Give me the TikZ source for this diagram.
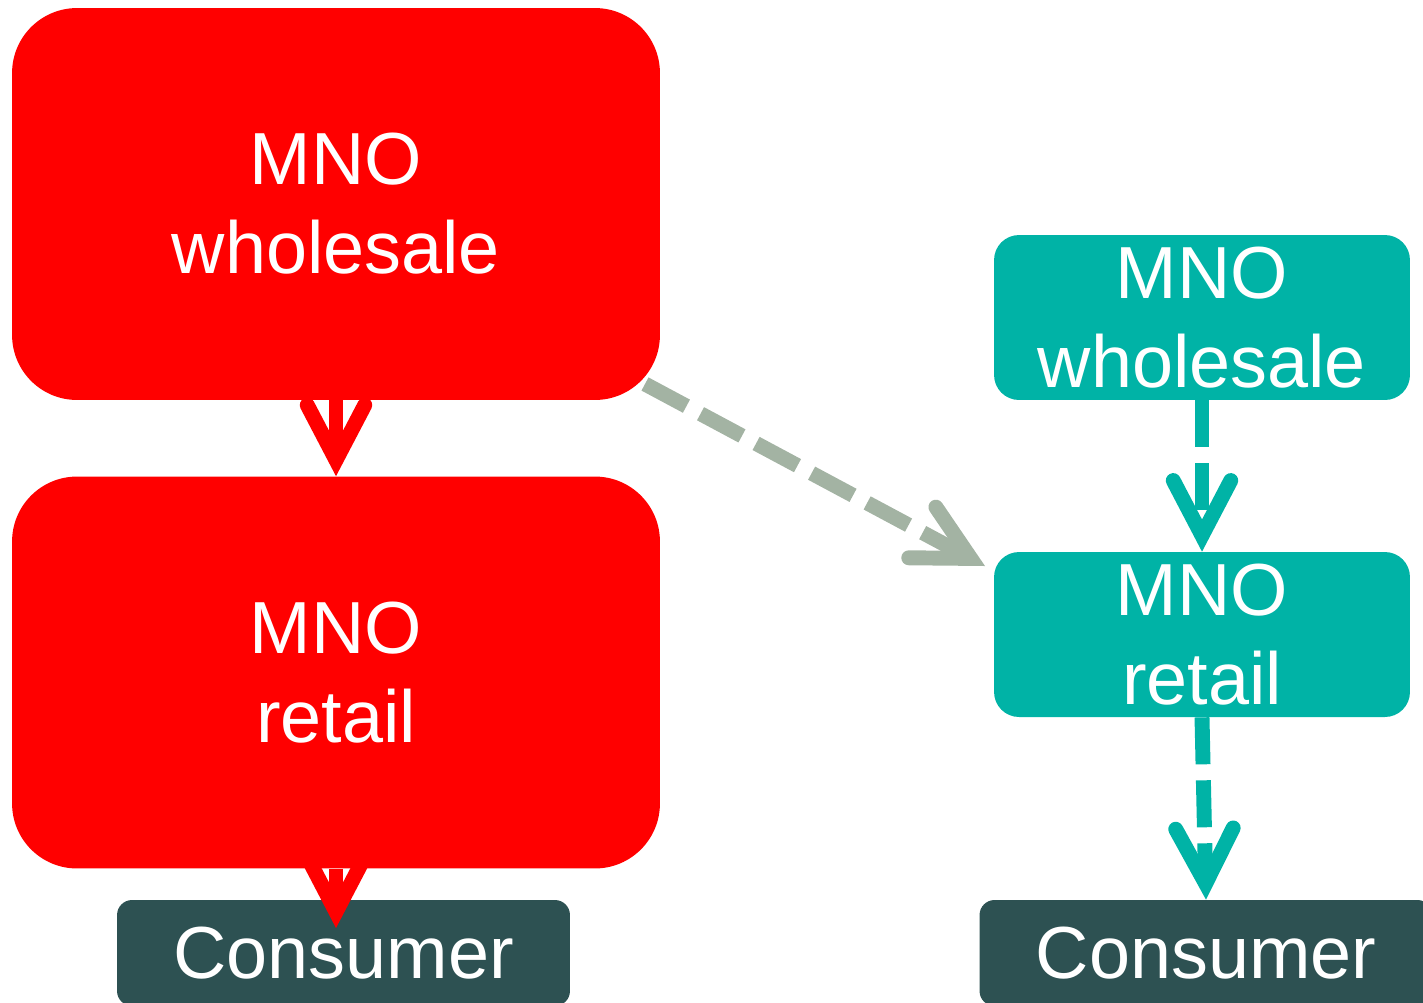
\documentclass[tikz,border=0pt]{standalone}
\usepackage{fontspec}
\setmainfont{Liberation Sans}
\usetikzlibrary{arrows.meta}
\definecolor{mnored}{HTML}{FF0000}
\definecolor{mnoteal}{HTML}{00B3A6}
\definecolor{consumerslate}{HTML}{2D5152}
\definecolor{crossgray}{HTML}{A3B3A3}
\begin{document}
\begin{tikzpicture}[x=0.02cm, y=-0.02cm,
    box/.style={text=white, align=center, inner sep=0pt, font=\fontsize{42}{50.6}\selectfont},
    bigbox/.style={box, fill=mnored, rounded corners=1.3cm, minimum width=12.96cm, minimum height=7.84cm},
    smallbox/.style={box, fill=mnoteal, rounded corners=0.5cm, minimum width=8.32cm, minimum height=3.3cm},
    endbox/.style={box, fill=consumerslate, rounded corners=0.3cm, minimum width=9.06cm, minimum height=2.12cm},
    flow/.style={line width=8.5pt, dash pattern=on 0.94cm off 0.32cm,
        -{Straight Barb[length=1.1cm, width=1.15cm, line cap=round, line join=miter]}}]
    \useasboundingbox (0,0) rectangle (1423,1002);
    % integrated operator
    \node[bigbox] (rwhole) at (336,204) {MNO\\wholesale};
    \node[bigbox] (rretail) at (336,672.5) {MNO\\retail};
    \node[endbox] (rcons) at (343.5,953) {Consumer};
    % separated operator
    \node[smallbox] (twhole) at (1202,317.5) {MNO\\wholesale};
    \node[smallbox] (tretail) at (1202,634.5) {MNO\\retail};
    \node[endbox] (tcons) at (1206,953) {Consumer};
    \coordinate (rtip) at (336,928);
    \coordinate (gstart) at (645,384);
    \coordinate (gend) at (985,566);
    % arrows
    \draw[flow, mnored] (rwhole.south) -- (rretail.north);
    \draw[flow, mnored] (rretail.south) -- (rtip);
    \draw[flow, mnoteal] (twhole.south) -- (tretail.north);
    \draw[flow, mnoteal] (tretail.south) -- (tcons.north);
    \draw[flow, crossgray] (gstart) -- (gend);
\end{tikzpicture}
\end{document}
